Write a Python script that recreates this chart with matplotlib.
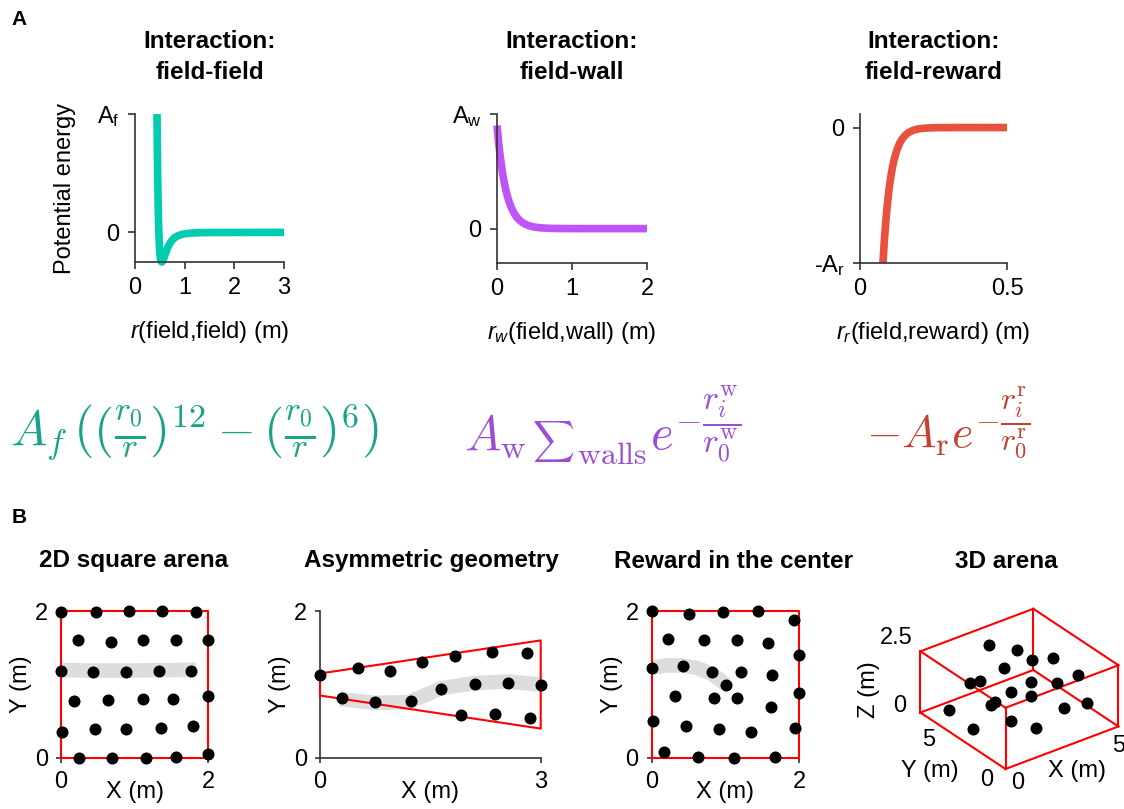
import numpy as np
import matplotlib
matplotlib.use('Agg')
import matplotlib.pyplot as plt
from mpl_toolkits.mplot3d import proj3d

plt.rcParams['font.family'] = ['Liberation Sans', 'DejaVu Sans']
plt.rcParams['mathtext.fontset'] = 'custom'
plt.rcParams['mathtext.rm'] = 'Liberation Sans'
plt.rcParams['mathtext.it'] = 'Liberation Sans:italic'
plt.rcParams['mathtext.bf'] = 'Liberation Sans:bold'

# ---------------- data: panel A (potential parameters) ----
ff_amp, ff_r0 = 1.0, 0.48       # field-field, A_f((r0/r)^12-(r0/r)^6)
fw_amp, fw_r0 = 0.9, 0.12       # field-wall,  A_w exp(-r/r0)
fr_amp, fr_r0 = 19.0, 0.0265    # field-reward, -A_r exp(-r/r0)
ff_xmax, fw_xmax, fr_xmax = 3.0, 2.0, 0.5

ff_xticks = [0, 1, 2, 3]
fw_xticks = [0, 1, 2]
fr_xticks = [0, 0.5]
fr_xticklabels = ['0', '0.5']
ff_yticks, ff_yticklabels = [0, 1], ['0', r'$\mathregular{A_f}$']
fw_yticks, fw_yticklabels = [0, 1], ['0', r'$\mathregular{A_w}$']
fr_yticks, fr_yticklabels = [-1, 0], [r'-$\mathregular{A_r}$', '0']

titles_a = ['Interaction:\nfield-field', 'Interaction:\nfield-wall',
            'Interaction:\nfield-reward']
xlabels_a = [r'$r$(field,field) (m)', r'$r_w$(field,wall) (m)',
             r'$r_r$(field,reward) (m)']
formula_ff = r'$A_f\,\left(\left(\frac{r_0}{r}\right)^{12}-\left(\frac{r_0}{r}\right)^{6}\right)$'
formula_fw_parts = [r'$A_{\rm w}$', r'$\sum$', r'$\rm walls$',
                    r'$e^{-\dfrac{r_i^{\rm w}}{r_0^{\rm w}}}$']
formula_fr = r'$-A_{\rm r}e^{-\dfrac{r_i^{\rm r}}{r_0^{\rm r}}}$'

# ---------------- data: panel B ----------------
# 2D square arena
sq_dot_x = [0.00, 0.48, 0.93, 1.37, 1.84,
            0.23, 0.68, 1.12, 1.56, 2.00,
            0.00, 0.43, 0.88, 1.34, 1.77,
            0.18, 0.64, 1.11, 1.53, 2.00,
            0.01, 0.46, 0.89, 1.36, 1.79,
            0.25, 0.70, 1.15, 1.57, 2.00]
sq_dot_y = [1.98, 1.98, 2.00, 2.00, 1.98,
            1.61, 1.58, 1.60, 1.60, 1.60,
            1.19, 1.17, 1.17, 1.19, 1.19,
            0.77, 0.79, 0.80, 0.80, 0.84,
            0.35, 0.40, 0.40, 0.41, 0.43,
            0.00, 0.00, 0.00, 0.02, 0.06]
sq_path_x = [0.02, 0.45, 0.90, 1.35, 1.84]
sq_path_y = [1.195, 1.19, 1.19, 1.195, 1.20]
sq_wall_x = [0, 2, 2, 0, 0]
sq_wall_y = [0, 0, 2, 2, 0]

# Asymmetric geometry (trapezoid)
as_dot_x = [0.00, 0.51, 0.95, 1.39, 1.84, 2.34, 2.82,
            0.30, 0.75, 1.24, 1.64, 2.11, 2.55, 3.00,
            1.91, 2.38, 2.85]
as_dot_y = [1.13, 1.22, 1.18, 1.30, 1.39, 1.44, 1.43,
            0.81, 0.76, 0.78, 0.94, 1.01, 1.02, 0.99,
            0.58, 0.60, 0.54]
as_path_x = [0.27, 0.75, 1.20, 1.42, 1.65, 2.10, 2.55, 3.00]
as_path_y = [0.80, 0.75, 0.76, 0.85, 0.95, 1.02, 1.04, 1.00]
as_wall_x = [0, 3, 3, 0, 0]
as_wall_y = [0.85, 0.40, 1.60, 1.15, 0.85]

# Reward in the center
rw_dot_x = [0.01, 0.51, 0.96, 1.44, 1.93,
            0.22, 0.71, 1.15, 1.57, 2.00,
            0.01, 0.43, 0.82, 1.21, 1.63, 1.00,
            0.32, 0.84, 1.16, 1.61, 2.00,
            0.02, 0.47, 0.91, 1.35, 1.94,
            0.17, 0.63, 1.11, 1.67]
rw_dot_y = [2.00, 1.96, 1.99, 2.00, 1.88,
            1.62, 1.60, 1.60, 1.57, 1.40,
            1.22, 1.25, 1.17, 1.17, 1.13, 1.00,
            0.85, 0.82, 0.82, 0.69, 0.88,
            0.50, 0.44, 0.40, 0.36, 0.41,
            0.08, 0.01, 0.00, 0.02]
rw_path_x = [0.02, 0.20, 0.40, 0.60, 0.80, 0.92, 1.00]
rw_path_y = [1.23, 1.26, 1.26, 1.23, 1.15, 1.07, 1.00]
rw_wall_x = [0, 2, 2, 0, 0]
rw_wall_y = [0, 0, 2, 2, 0]

# 3D arena
box_x, box_y, box_z = (0, 5), (0, 5), (0, 2.5)
d3_x = [2.5, 3.3, 3.8, 4.2, 2.7, 1.6, 2.2, 3.4, 4.1, 4.8,
        2.6, 3.3, 2.0, 2.0, 0.6, 3.7, 4.3, 0.6, 1.9, 2.4]
d3_y = [4.3, 3.7, 3.5, 2.8, 3.7, 4.2, 4.4, 3.0, 2.4, 2.1,
        3.1, 2.9, 3.5, 3.3, 4.1, 1.5, 0.9, 2.7, 2.2, 1.4]
d3_z = [2.2, 2.0, 1.5, 1.8, 1.5, 1.0, 0.8, 1.0, 1.0, 1.2,
        0.8, 0.5, 0.3, 0.5, 0.3, 0.5, 0.8, 0.2, 0.3, 0.2]

titles_b = ['2D square arena', 'Asymmetric geometry',
            'Reward in the center', '3D arena']

# ---------------- style ----------------
W, H = 1124, 809
FS = 17
SPINE = '#333333'
C_FF, C_FW, C_FR = '#00CCB0', '#BF55F7', '#E8513D'
C_FF_T, C_FW_T, C_FR_T = '#17A48B', '#9B4DD6', '#C2412F'
WALL = '#FF0000'
PATH = '#DDDDDD'

fig = plt.figure(figsize=(W / 100, H / 100), dpi=100)


def rect(l, t, r, b):
    return [l / W, 1 - b / H, (r - l) / W, (b - t) / H]


def ftext(x, y, s, **kw):
    return fig.text(x / W, 1 - y / H, s, **kw)


def style_axes(ax, ticklen, pad):
    for s in ['top', 'right']:
        ax.spines[s].set_visible(False)
    for s in ['left', 'bottom']:
        ax.spines[s].set_color(SPINE)
        ax.spines[s].set_linewidth(1.2)
    ax.tick_params(direction='out', length=ticklen, width=1.2, color=SPINE,
                   labelsize=FS, pad=pad)


# ---------------- panel A ----------------
ax_rects = [rect(135, 114, 284, 262), rect(497, 114, 647, 263),
            rect(860, 114, 1007, 263)]
axA = [fig.add_axes(r) for r in ax_rects]

# field-field
r1 = np.linspace(ff_r0 / ((1 + np.sqrt(5)) / 2) ** (1 / 6), ff_xmax, 1500)
e1 = ff_amp * ((ff_r0 / r1) ** 12 - (ff_r0 / r1) ** 6)
axA[0].plot(r1, e1, color=C_FF, lw=5.5, solid_capstyle='butt', clip_on=False)
axA[0].set_xlim(0, ff_xmax)
axA[0].set_ylim(-0.25, 1)
axA[0].set_xticks(ff_xticks)
axA[0].set_yticks(ff_yticks)
axA[0].set_yticklabels(ff_yticklabels)
axA[0].set_ylabel('Potential energy', fontsize=FS, labelpad=15)

# field-wall
r2 = np.linspace(0, fw_xmax, 800)
e2 = fw_amp * np.exp(-r2 / fw_r0)
axA[1].plot(r2, e2, color=C_FW, lw=5.5, solid_capstyle='butt', clip_on=False)
axA[1].set_xlim(0, fw_xmax)
axA[1].set_ylim(-0.3, 1)
axA[1].set_xticks(fw_xticks)
axA[1].set_yticks(fw_yticks)
axA[1].set_yticklabels(fw_yticklabels)

# field-reward
r3 = np.linspace(fr_r0 * np.log(fr_amp), fr_xmax, 800)
e3 = -fr_amp * np.exp(-r3 / fr_r0)
axA[2].plot(r3, e3, color=C_FR, lw=5.5, solid_capstyle='butt', clip_on=False)
axA[2].set_xlim(0, fr_xmax)
axA[2].set_ylim(-1, 0.1)
axA[2].set_xticks(fr_xticks)
axA[2].set_xticklabels(fr_xticklabels)
axA[2].set_yticks(fr_yticks)
axA[2].set_yticklabels(fr_yticklabels)

for ax, t, xl in zip(axA, titles_a, xlabels_a):
    style_axes(ax, 5, 6)
    ax.set_xlabel(xl, fontsize=FS, labelpad=14)
    cx = (ax.get_position().x0 + ax.get_position().x1) / 2 * W
    ftext(cx, 57, t, fontsize=FS + 0.5, fontweight='bold', ha='center',
          va='center', linespacing=1.45)

ftext(19.5, 19.5, 'A', fontsize=15, fontweight='bold', ha='center', va='center')
ftext(19.5, 517.5, 'B', fontsize=15, fontweight='bold', ha='center', va='center')

# formulas
ftext(10, 446, formula_ff, fontsize=35, color=C_FF_T, ha='left',
      va='baseline', math_fontfamily='cm')
ftext(866, 448, formula_fr, fontsize=33, color=C_FR_T, ha='left',
      va='baseline', math_fontfamily='cm')

# field-wall formula composed piece by piece (text-style sum, side subscript)
fw_sizes = [35, 21, 23, 35]
fw_gaps = [0, 6, 2, 3]
fw_valign = ['baseline', 'center', 'baseline', 'baseline']
fw_ypos = [450, 441, 464, 450]
renderer = fig.canvas.get_renderer()
xcur = 464
for s, fs, gap, va, yy in zip(formula_fw_parts, fw_sizes, fw_gaps, fw_valign,
                              fw_ypos):
    t = ftext(xcur + gap, yy, s, fontsize=fs, color=C_FW_T, ha='left', va=va,
              math_fontfamily='cm')
    xcur = t.get_window_extent(renderer).x1

# ---------------- panel B ----------------
b_rects = [rect(61, 611, 208, 758), rect(320, 611, 540.7, 758),
           rect(651.7, 611, 799.3, 758)]
axB = [fig.add_axes(r) for r in b_rects]
b_data = [
    (sq_dot_x, sq_dot_y, sq_path_x, sq_path_y, sq_wall_x, sq_wall_y, 2),
    (as_dot_x, as_dot_y, as_path_x, as_path_y, as_wall_x, as_wall_y, 3),
    (rw_dot_x, rw_dot_y, rw_path_x, rw_path_y, rw_wall_x, rw_wall_y, 2),
]
for ax, (dx, dy, px, py, wx, wy, xmax) in zip(axB, b_data):
    ax.plot(px, py, color=PATH, lw=10.5, solid_capstyle='butt',
            solid_joinstyle='round', zorder=2)
    ax.plot(wx, wy, color=WALL, lw=1.5, zorder=3, clip_on=False)
    ax.scatter(dx, dy, s=75, color='black', zorder=4, clip_on=False,
               linewidths=0)
    ax.set_xlim(0, xmax)
    ax.set_ylim(0, 2)
    ax.set_xticks([0, xmax])
    ax.set_yticks([0, 2])
    style_axes(ax, 3.5, 6)
    ax.set_xlabel('X (m)', fontsize=FS, labelpad=-9)
    ax.set_ylabel('Y (m)', fontsize=FS, labelpad=2)

title_b_x = [134, 431, 734, 1006]
for x, t in zip(title_b_x, titles_b):
    ftext(x, 561, t, fontsize=FS + 0.5, fontweight='bold', ha='center',
          va='center')

# 3D arena
ax3d = fig.add_axes(rect(880, 560, 1124, 809), projection='3d')
ax3d.set_anchor('C')
ax3d.set_proj_type('ortho')
ax3d.view_init(elev=30, azim=-127)
ax3d.set_xlim(*box_x)
ax3d.set_ylim(*box_y)
ax3d.set_zlim(*box_z)
ax3d.set_box_aspect((box_x[1] - box_x[0], box_y[1] - box_y[0],
                     box_z[1] - box_z[0]))
ax3d.set_axis_off()
ax3d.computed_zorder = False
ax3d.patch.set_alpha(0)

x0, x1 = box_x
y0, y1 = box_y
z0, z1 = box_z
edges = []
for yy in (y0, y1):
    for zz in (z0, z1):
        edges.append(([x0, x1], [yy, yy], [zz, zz]))
for xx in (x0, x1):
    for zz in (z0, z1):
        edges.append(([xx, xx], [y0, y1], [zz, zz]))
for xx in (x0, x1):
    for yy in (y0, y1):
        edges.append(([xx, xx], [yy, yy], [z0, z1]))
for ex, ey, ez in edges:
    ax3d.plot(ex, ey, ez, color=WALL, lw=1.5, zorder=2)
ax3d.scatter(d3_x, d3_y, d3_z, s=75, color='black', depthshade=False,
             zorder=4, linewidths=0)


def to_px(x, y, z):
    xs, ys, _ = proj3d.proj_transform(np.atleast_1d(np.asarray(x, float)),
                                      np.atleast_1d(np.asarray(y, float)),
                                      np.atleast_1d(np.asarray(z, float)),
                                      ax3d.get_proj())
    return ax3d.transData.transform(np.column_stack([xs, ys]))


# place the 3D box so that its corners land where the reference has them
targets = np.array([[1005.5, H - 769], [1118, H - 727], [920, H - 713]])
for _ in range(3):
    fig.canvas.draw()
    p = to_px([x0, x1, x0], [y0, y0, y1], [z0, z0, z0])
    k = (targets[1, 0] - targets[2, 0]) / (p[1, 0] - p[2, 0])
    bb = ax3d.get_position(original=True)
    c = np.array([(bb.x0 + bb.x1) / 2 * W, (bb.y0 + bb.y1) / 2 * H])
    newc = targets[0] - k * (p[0] - c)
    nw, nh = bb.width * k, bb.height * k
    ax3d.set_position([newc[0] / W - nw / 2, newc[1] / H - nh / 2, nw, nh])

fig.canvas.draw()


def label3d(x, y, z, off, s, **kw):
    q = to_px(x, y, z)[0]
    fig.text((q[0] + off[0]) / W, (q[1] - off[1]) / H, s, fontsize=FS,
             ha='center', va='center', **kw)


label3d(x0, y1, z1, (-24, -13), '2.5')
label3d(x0, y1, z0, (-21, -7), '0')
label3d(x0, y1, z0, (8, 27), '5')
label3d(x0, y0, z0, (-19, 11), '0')
label3d(x0, y0, z0, (12, 14), '0')
label3d(x1, y0, z0, (0, 20), '5')
label3d(x0, y1, z0, (-51, -23), 'Z (m)', rotation=90)
label3d(x0, y1, z0, (9, 58), 'Y (m)')
label3d(x1, y0, z0, (-41, 45), 'X (m)')

fig.savefig('out.png', dpi=100)
